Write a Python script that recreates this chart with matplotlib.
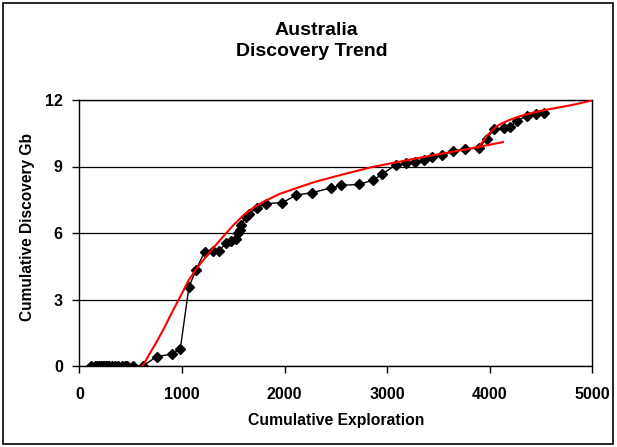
import matplotlib
matplotlib.use("Agg")
import matplotlib.pyplot as plt
import matplotlib.patches as patches

# discovery data (cumulative exploration vs cumulative discovery, Gb)
expl = [110, 150, 175, 195, 210, 225, 240, 255, 270, 290, 320, 350, 380, 410,
        440, 460, 525, 617, 752, 898, 983, 1068, 1138, 1220, 1303, 1363, 1433,
        1482, 1528, 1547, 1570, 1579, 1620, 1652, 1730, 1823, 1979, 2116, 2272,
        2455, 2555, 2728, 2868, 2956, 3083, 3190, 3272, 3360, 3438, 3541, 3645,
        3765, 3895, 3973, 4045, 4145, 4197, 4269, 4363, 4458, 4536]
disc = [0] * 18 + [0.42, 0.54, 0.76, 3.57, 4.35, 5.15, 5.2, 5.2, 5.57, 5.65,
                   5.71, 6.02, 6.13, 6.38, 6.73, 6.85, 7.14, 7.33, 7.37, 7.71,
                   7.82, 8.04, 8.15, 8.19, 8.4, 8.66, 9.07, 9.14, 9.2, 9.3,
                   9.41, 9.52, 9.68, 9.81, 9.82, 10.26, 10.67, 10.72, 10.8, 11.05,
                   11.29, 11.36, 11.42]

# trend lines
trend1_x = [616, 690, 760, 830, 900, 980, 1060, 1140, 1220, 1300, 1400, 1500,
            1600, 1700, 1800, 1950, 2100, 2300, 2550, 2850, 3200, 3500, 3800, 4131]
trend1_y = [0, 0.6, 1.15, 1.75, 2.4, 3.1, 3.83, 4.38, 4.85, 5.3, 5.83, 6.35,
            6.8, 7.15, 7.42, 7.76, 8.0, 8.31, 8.62, 8.97, 9.29, 9.55, 9.8, 10.1]
trend2_x = [3887, 3930, 3969, 4020, 4066, 4130, 4196, 4280, 4359, 4470, 4586,
            4700, 4850, 5000]
trend2_y = [9.85, 10.1, 10.35, 10.6, 10.8, 10.97, 11.1, 11.24, 11.35, 11.48,
            11.59, 11.68, 11.82, 11.98]

xticks = [0, 1000, 2000, 3000, 4000, 5000]
yticks = [0, 3, 6, 9, 12]

plt.rcParams['font.family'] = ['Liberation Sans', 'DejaVu Sans']
plt.rcParams['font.weight'] = 'bold'

W, H = 617, 447
fig = plt.figure(figsize=(W / 100, H / 100), dpi=100)
ax = fig.add_axes([79.5 / W, 81 / H, 512.5 / W, 266 / H])

ax.plot(expl, disc, color='black', lw=1, marker='D', ms=4.6, zorder=3)
ax.plot(trend1_x, trend1_y, color='red', lw=1.5, zorder=4)
ax.plot(trend2_x, trend2_y, color='red', lw=1.5, zorder=4)

ax.set_xlim(0, 5000)
ax.set_ylim(0, 12)
ax.set_xticks(xticks)
ax.set_yticks(yticks)
ax.yaxis.grid(True, color='black', lw=0.9)
ax.set_axisbelow(True)
for s in ax.spines.values():
    s.set_color('black')
    s.set_linewidth(1)
ax.tick_params(axis='x', direction='out', length=5, width=1, pad=10, labelsize=11.5)
ax.tick_params(axis='y', direction='out', length=5, width=1, pad=7, labelsize=11.5)
for lab in ax.get_xticklabels() + ax.get_yticklabels():
    lab.set_fontweight('bold')

fig.text(336 / W, 1 - 420 / H, 'Cumulative Exploration', ha='center', va='center',
         fontsize=11.3, fontweight='bold')
fig.text(28 / W, 1 - 227 / H, 'Cumulative Discovery Gb', ha='center', va='center',
         rotation=90, fontsize=11.2, fontweight='bold')

fig.text(316 / W, 1 - 35 / H, 'Australia', ha='center', va='baseline',
         fontsize=14, fontweight='bold')
fig.text(312 / W, 1 - 56.5 / H, 'Discovery Trend', ha='center', va='baseline',
         fontsize=14, fontweight='bold')

# outer chart border
fig.patches.append(patches.Rectangle((3 / W, 3 / H), 610 / W, 441 / H,
                                     transform=fig.transFigure, fill=False,
                                     edgecolor='black', lw=1.2))

fig.savefig('out.png', dpi=100)
